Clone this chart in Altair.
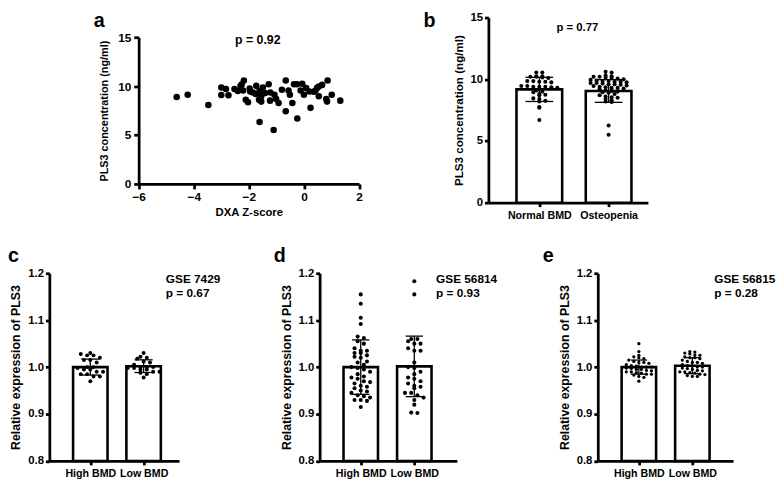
import altair as alt
import pandas as pd

FONT = "Liberation Sans"

# ---------------- Panel a: scatter ----------------
a_zscore = [-4.62, -4.22, -3.47, -3.00, -3.00, -2.83, -2.74, -2.52, -2.30, -2.18, -2.26, -2.21, -2.11, -2.03,
            -1.97, -1.85, -1.73, -1.61, -1.55, -1.63, -1.55, -1.49, -1.41, -1.61, -1.28, -1.22, -1.23, -1.10,
            -1.07, -1.01, -0.92, -0.80, -0.66, -0.66, -0.56, -0.51, -0.42, -0.36, -0.25, -0.24, -0.12, -0.06,
            0.00, 0.08, 0.20, 0.24, 0.42, 0.54, 0.66, 0.54, 0.81, 0.84, 0.86, 1.01, 1.32, 0.36, 0.48, -1.95, -2.40, -1.75]
a_pls3 = [8.89, 9.12, 8.08, 9.87, 9.09, 9.70, 9.06, 9.70, 10.03, 10.57, 10.17, 9.56, 8.62, 8.35,
          9.76, 9.36, 10.03, 9.53, 8.96, 8.62, 8.42, 9.87, 9.29, 6.33, 10.20, 9.36, 8.52, 5.52,
          9.12, 8.69, 8.28, 9.63, 10.57, 7.44, 9.56, 9.12, 8.28, 10.20, 10.20, 6.70, 9.56, 10.24,
          9.12, 9.80, 9.46, 7.78, 9.56, 8.96, 10.13, 9.97, 8.69, 8.42, 10.57, 9.12, 8.52, 9.43, 9.84, 9.45, 9.50, 9.20]
a_xticks = [-6, -4, -2, 0, 2]
a_yticks = [0, 5, 10, 15]

# ---------------- Panel b: bars + dots ----------------
b_groups = ["Normal BMD", "Osteopenia"]
b_normal = [10.55, 10.55, 10.25, 10.25, 10.2, 10.2, 10.15, 10.1, 9.85, 9.85, 9.8, 9.8, 9.75, 9.45, 9.45,
            9.4, 9.4, 9.4, 9.35, 9.3, 9.1, 9.0, 8.95, 8.8, 8.75, 8.7, 8.45, 8.4, 8.25, 8.2, 7.75, 7.7, 6.7]
b_osteopenia = [10.6, 10.55, 10.3, 10.25, 10.2, 10.2, 10.15, 10.1, 10.05, 10.0, 9.95, 9.9, 9.85, 9.85, 9.8,
                9.8, 9.75, 9.7, 9.7, 9.65, 9.6, 9.6, 9.55, 9.5, 9.45, 9.4, 9.35, 9.3, 9.3, 9.25, 9.2, 9.1,
                9.05, 9.0, 8.95, 8.9, 8.8, 8.7, 8.6, 8.55, 8.5, 8.4, 8.3, 8.2, 8.15, 6.25, 5.5]
b_mean = [9.18, 9.05]
b_sd = [0.98, 0.92]
b_yticks = [0, 5, 10, 15]

# ---------------- Panels c, d, e ----------------
cde_groups = ["High BMD", "Low BMD"]
c_high = [1.03, 1.028, 1.025, 1.025, 1.02, 1.015, 1.015, 1.01, 1.0, 1.0, 0.998, 0.995, 0.995, 0.99, 0.99,
          0.985, 0.985, 0.98, 0.98, 0.97]
c_low = [1.03, 1.022, 1.02, 1.018, 1.012, 1.01, 1.005, 1.0, 1.0, 1.0, 0.998, 0.998, 0.995, 0.995, 0.99,
         0.99, 0.988, 0.985, 0.978]
c_mean = [1.0, 1.002]
c_sd = [0.017, 0.0135]

d_high = [1.155, 1.135, 1.105, 1.092, 1.065, 1.062, 1.055, 1.05, 1.04, 1.035, 1.035, 1.03, 1.03, 1.025, 1.022,
          1.02, 1.012, 1.01, 1.005, 1.0, 0.998, 0.995, 0.99, 0.985, 0.98, 0.978, 0.975, 0.97, 0.968, 0.965,
          0.96, 0.958, 0.955, 0.95, 0.948, 0.945, 0.94, 0.938, 0.935, 0.93, 0.93, 0.928, 0.915]
d_low = [1.183, 1.155, 1.06, 1.06, 1.055, 1.05, 1.05, 1.04, 1.035, 1.035, 1.01, 1.0, 0.998, 0.99, 0.985,
         0.978, 0.975, 0.97, 0.965, 0.96, 0.958, 0.955, 0.945, 0.945, 0.94, 0.935, 0.93, 0.92, 0.903, 0.902]
d_mean = [1.0, 1.0015]
d_sd = [0.058, 0.0645]

e_high = [1.05, 1.033, 1.025, 1.022, 1.02, 1.018, 1.015, 1.012, 1.01, 1.01, 1.008, 1.005, 1.003, 1.002, 1.0,
          1.0, 1.0, 0.998, 0.997, 0.995, 0.995, 0.993, 0.992, 0.99, 0.99, 0.988, 0.987, 0.985, 0.985, 0.983,
          0.98, 0.978, 0.97]
e_low = [1.033, 1.032, 1.03, 1.028, 1.026, 1.025, 1.022, 1.02, 1.02, 1.018, 1.015, 1.012, 1.01, 1.01, 1.008,
         1.005, 1.003, 1.002, 1.0, 1.0, 0.998, 0.997, 0.995, 0.993, 0.992, 0.99, 0.99, 0.988, 0.987, 0.985,
         0.984, 0.982, 0.98, 0.98]
e_mean = [1.0, 1.003]
e_sd = [0.015, 0.017]
cde_yticks = [0.8, 0.9, 1.0, 1.1, 1.2]

ROW1_H = 188
ROW2_H = 190.6
AXW = 2.8


def label_text(txt, x, y, size, align="left", baseline="alphabetic"):
    return alt.Chart(pd.DataFrame({"t": [txt]})).mark_text(
        font=FONT, fontWeight="bold", fontSize=size, color="black", align=align, baseline=baseline
    ).encode(text="t:N", x=alt.value(x), y=alt.value(y))


# ---- panel a ----
df_a = pd.DataFrame({"z": a_zscore, "c": a_pls3})
pts_a = alt.Chart(df_a).mark_circle(size=44, color="black", opacity=1).encode(
    x=alt.X("z:Q", scale=alt.Scale(domain=[-6, 2], range=[90.7, 314.5], nice=False, zero=False),
            axis=alt.Axis(values=a_xticks, title="DXA Z-score", offset=-19, labelFlush=False,
                          domainWidth=AXW, tickWidth=AXW, domainColor="black", tickColor="black",
                          tickSize=5, labelPadding=3, labelFontSize=12, titlePadding=4, titleFontSize=11.5)),
    y=alt.Y("c:Q", scale=alt.Scale(domain=[0, 15], range=[169, 20], nice=False),
            axis=alt.Axis(values=a_yticks, title="PLS3 concentration (ng/ml)", offset=-90.7,
                          domainWidth=AXW, tickWidth=AXW, domainColor="black", tickColor="black",
                          tickSize=5, labelPadding=3, labelFontSize=12, titlePadding=8, titleFontSize=11)),
)
panel_a = alt.layer(
    pts_a,
    label_text("p = 0.92", 211.7, 23, 12.5, align="center", baseline="middle"),
    label_text("a", 45, 9.5, 20),
).properties(width=314.5, height=ROW1_H)


# ---- generic bar + dot panel (numeric group positions, labelled by name) ----
def bar_panel(groups, values_by_group, means, sds, y_domain, y_ticks, y_title, y_fmt,
              width, height, step_px, first_px, bar_px, binh, dot_dx_px, cap_px, dot_size,
              y_title_pad, y_title_size, texts):
    idx = list(range(len(groups)))
    xmin = -first_px / step_px
    xmax = xmin + width / step_px
    dx = dot_dx_px / step_px
    half_cap = cap_px / 2 / step_px
    pts = pd.DataFrame({
        "i": sum([[i] * len(v) for i, v in zip(idx, values_by_group)], []),
        "v": sum(values_by_group, []),
    })
    summ = pd.DataFrame({"i": idx, "mean": means, "sd": sds})
    label_expr = f"datum.value == 0 ? '{groups[0]}' : '{groups[1]}'"
    xs = alt.Scale(domain=[xmin, xmax], nice=False, zero=False)
    xax = alt.Axis(values=idx, labelExpr=label_expr, title=None, labelAngle=0, labelFontSize=10.8,
                   labelPadding=3, tickSize=4, labelFlush=False,
                   domainWidth=AXW, tickWidth=AXW, domainColor="black", tickColor="black")
    ys = alt.Scale(domain=y_domain, nice=False, zero=False)
    yax = alt.Axis(values=y_ticks, title=y_title, format=y_fmt, labelFontSize=11.5, tickSize=4,
                   labelPadding=2, titlePadding=y_title_pad, titleFontSize=y_title_size, labelFlush=False,
                   domainWidth=AXW, tickWidth=AXW, domainColor="black", tickColor="black")

    def X(f):
        return alt.X(f, scale=xs, axis=xax)

    def Y(f):
        return alt.Y(f, scale=ys, axis=yax)

    bars = alt.Chart(summ).mark_bar(width=bar_px, fill="white", stroke="black", strokeWidth=2.6).encode(
        x=X("i:Q"), y=Y("mean:Q"), y2=alt.datum(y_domain[0]))
    base_err = alt.Chart(summ).transform_calculate(
        lo="datum.mean - datum.sd", hi="datum.mean + datum.sd",
        cl=f"datum.i - {half_cap}", cr=f"datum.i + {half_cap}")
    err = base_err.mark_rule(color="black", strokeWidth=1.3).encode(
        x=X("i:Q"), y=Y("lo:Q"), y2=alt.Y2("hi:Q"))
    cap_hi = base_err.mark_rule(color="black", strokeWidth=1.3).encode(
        x=X("cl:Q"), x2=alt.X2("cr:Q"), y=Y("hi:Q"))
    cap_lo = base_err.mark_rule(color="black", strokeWidth=1.3).encode(
        x=X("cl:Q"), x2=alt.X2("cr:Q"), y=Y("lo:Q"))
    dots = alt.Chart(pts).transform_calculate(
        bin=f"floor(datum.v / {binh})"
    ).transform_window(
        rank="row_number()", groupby=["i", "bin"]
    ).transform_joinaggregate(
        n="count()", groupby=["i", "bin"]
    ).transform_calculate(
        xo=f"datum.i + (datum.rank - (datum.n + 1) / 2) * {dx}"
    ).mark_circle(size=dot_size, color="black", opacity=1).encode(x=X("xo:Q"), y=Y("v:Q"))
    layers = [bars, err, cap_hi, cap_lo, dots] + texts
    return alt.layer(*layers).properties(width=width, height=height)


panel_b = bar_panel(
    b_groups, [b_normal, b_osteopenia], b_mean, b_sd, [0, 15], b_yticks,
    "PLS3 concentration  (ng/ml)", "d", 162, ROW1_H, 75, 49.8, 46.4,
    0.25, 6.5, 30, 17, 6, 11.8,
    [label_text("p = 0.77", 90.3, 10.3, 11.5, align="center", baseline="middle"),
     label_text("b", -66, 9.5, 20)])


def expr_panel(high, low, mean, sd, width, letter, letter_x, gse, p, binh, dot_dx, cap, dot_size):
    return bar_panel(
        cde_groups, [high, low], mean, sd, [0.8, 1.2], cde_yticks,
        "Relative expression of PLS3", ".1f", width, ROW2_H, 58.6, 39.6, 35,
        binh, dot_dx, cap, dot_size, 5, 12.5,
        [label_text(gse, 118.3, 5.6, 12, baseline="middle"),
         label_text(p, 118.3, 19.6, 12, baseline="middle"),
         label_text(letter, letter_x, -11.5, 20)])


panel_c = expr_panel(c_high, c_low, c_mean, c_sd, 131.7, "c", -42, "GSE 7429", "p = 0.67", 0.01, 7, 20, 16)
panel_d = expr_panel(d_high, d_low, d_mean, d_sd, 139.4, "d", -46.6, "GSE 56814", "p = 0.93", 0.011, 6.8, 19, 17)
panel_e = expr_panel(e_high, e_low, e_mean, e_sd, 137.4, "e", -56, "GSE 56815", "p = 0.28", 0.008, 5.5, 18, 11)

row1 = alt.hconcat(panel_a, panel_b, spacing=130.9, bounds="flush")
row2 = alt.hconcat(panel_c, panel_d, panel_e, spacing=142.5, bounds="flush")

chart = alt.vconcat(row1, row2, spacing=259.7, bounds="flush").properties(
    padding={"left": 0, "top": -1, "right": 0, "bottom": 0}
).configure_axis(
    domainColor="black", domainWidth=AXW, tickColor="black", tickWidth=AXW,
    labelFont=FONT, labelFontWeight="bold", labelColor="black",
    titleFont=FONT, titleFontWeight="bold", titleColor="black", grid=False
).configure_view(stroke=None)

chart.save("out.html", embed_options={"renderer": "svg", "actions": False})
